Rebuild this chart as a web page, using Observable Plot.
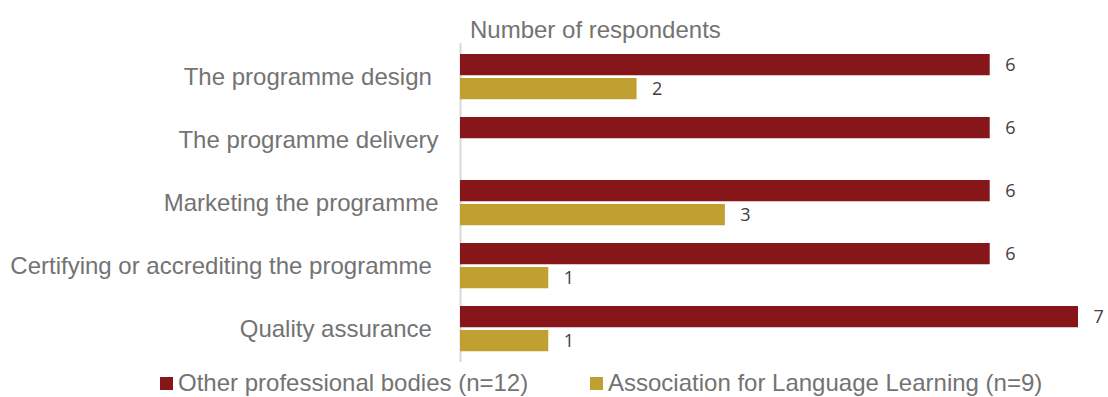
<!DOCTYPE html>
<html>
<head>
<meta charset="utf-8">
<script src="https://cdn.jsdelivr.net/npm/d3@7"></script>
<script src="https://cdn.jsdelivr.net/npm/@observablehq/plot@0.6"></script>
<style>
  html, body { margin: 0; padding: 0; background: #fff; }
  body { width: 1108px; height: 397px; position: relative; overflow: hidden; font-family: "Liberation Sans", Arial, sans-serif; }
  #title { position: absolute; left: 470px; top: 16px; font-size: 24px; color: #737373; line-height: 28px; white-space: nowrap; }
  #chart { position: absolute; left: 0; top: 40px; }
  #chart svg text { white-space: pre; }
  #legend { position: absolute; top: 369px; left: 0; width: 1108px; height: 28px; font-size: 24px; color: #737373; }
  .item { position: absolute; top: 0; display: flex; align-items: center; white-space: nowrap; line-height: 28px; }
  .sw { width: 13px; height: 13px; margin-right: 5px; }
</style>
</head>
<body>
<div id="title"></div>
<div id="chart"></div>
<div id="legend"></div>
<script>
const categories = ["The programme design ", "The programme delivery", "Marketing the programme", "Certifying or accrediting the programme ", "Quality assurance "];
const seriesNames = ["Other professional bodies (n=12)", "Association for Language Learning (n=9)"];
const otherBodies = [6, 6, 6, 6, 7];
const allValues = [2, 0, 3, 1, 1];
const colors = ["#86161A", "#C0A030"];
const titleText = "Number of respondents";

document.getElementById("title").textContent = titleText;

const redData = categories.map((c, i) => ({category: c, value: otherBodies[i]}));
const goldData = categories.map((c, i) => ({category: c, value: allValues[i]})).filter(d => d.value > 0);

const chart = Plot.plot({
  width: 1108,
  height: 325,
  marginLeft: 460,
  marginRight: 30,
  marginTop: 3,
  marginBottom: 3,
  x: {domain: [0, 7], axis: null},
  y: {domain: categories, padding: 0, label: null, axis: null},
  style: {fontFamily: "'Liberation Sans', Arial, sans-serif", background: "transparent"},
  marks: [
    Plot.axisY({tickSize: 0, tickPadding: 22, fontSize: 24, color: "#737373", label: null}),
    Plot.ruleX([0], {stroke: "#d9d9d9", strokeWidth: 2}),
    Plot.barX(redData, {x: "value", y: "category", fill: colors[0], insetTop: 9, insetBottom: 32.75}),
    Plot.barX(goldData, {x: "value", y: "category", fill: colors[1], insetTop: 33, insetBottom: 8.75}),
    Plot.text(redData, {x: "value", y: "category", text: d => String(d.value), dx: 15, dy: -12, textAnchor: "start", fontSize: 18, fill: "#404040", fontFamily: "'Open Sans', sans-serif"}),
    Plot.text(goldData, {x: "value", y: "category", text: d => String(d.value), dx: 15, dy: 12, textAnchor: "start", fontSize: 18, fill: "#404040", fontFamily: "'Open Sans', sans-serif"})
  ]
});
document.getElementById("chart").appendChild(chart);

const legend = document.getElementById("legend");
const lefts = [160, 590];
seriesNames.forEach((name, i) => {
  const item = document.createElement("div");
  item.className = "item";
  item.style.left = lefts[i] + "px";
  const sw = document.createElement("span");
  sw.className = "sw";
  sw.style.background = colors[i];
  const t = document.createElement("span");
  t.textContent = name;
  item.appendChild(sw);
  item.appendChild(t);
  legend.appendChild(item);
});
</script>
</body>
</html>
